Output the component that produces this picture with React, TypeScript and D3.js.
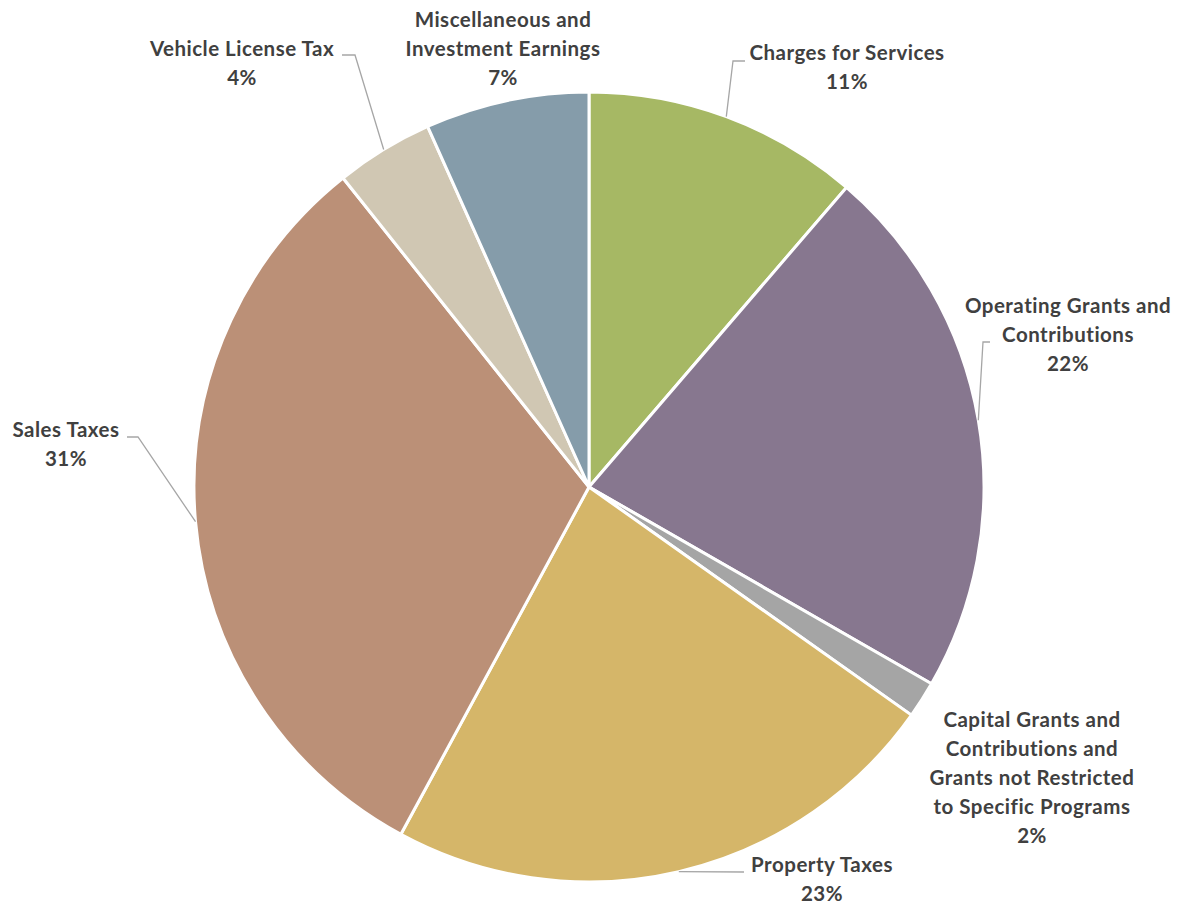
import React from "react";
import * as d3 from "d3";

const categories = [
  "Charges for Services",
  "Operating Grants and Contributions",
  "Capital Grants and Contributions and Grants not Restricted to Specific Programs",
  "Property Taxes",
  "Sales Taxes",
  "Vehicle License Tax",
  "Miscellaneous and Investment Earnings",
];
const shares = [11.3, 22.0, 1.5, 23.1, 31.4, 4.0, 6.7];
const colors = ["#A6B864", "#87778F", "#A5A5A5", "#D5B669", "#BB9077", "#D0C7B3", "#859CAA"];

// label layout: wrapped lines, center x, first line center y, optional leader elbow
const labelLines = [
  ["Charges for Services"],
  ["Operating Grants and", "Contributions"],
  ["Capital Grants and", "Contributions and", "Grants not Restricted", "to Specific Programs"],
  ["Property Taxes"],
  ["Sales Taxes"],
  ["Vehicle License Tax"],
  ["Miscellaneous and", "Investment Earnings"],
];
const labelPos: { x: number; y: number; elbow?: [number, number]; end?: [number, number] }[] = [
  { x: 847, y: 53, elbow: [733, 61], end: [745, 61] },
  { x: 1068, y: 306, elbow: [983, 342], end: [990, 342] },
  { x: 1032, y: 720 },
  { x: 822, y: 865, end: [744, 872] },
  { x: 66, y: 430, elbow: [138, 437], end: [127, 437] },
  { x: 242, y: 49, elbow: [355, 55], end: [342, 55] },
  { x: 503, y: 20 },
];

const W = 1183, H = 905;
const cx = 589, cy = 487, R = 395;
const LH = 29;

export default function App() {
  const total = d3.sum(shares);
  const pie = d3.pie<number>().sort(null).value((d) => d);
  const arcs = pie(shares);
  const arc = d3.arc<d3.PieArcDatum<number>>().innerRadius(0).outerRadius(R);
  return (
    <svg width={W} height={H} style={{ position: "absolute", left: 0, top: 0, background: "#fff" }}>
      <g transform={`translate(${cx},${cy})`}>
        {arcs.map((a, i) => (
          <path key={i} d={arc(a) || ""} fill={colors[i]} stroke="#fff" strokeWidth={3} strokeLinejoin="round" />
        ))}
      </g>
      {arcs.map((a, i) => {
        const lp = labelPos[i];
        if (!lp.end) return null;
        const mid = (a.startAngle + a.endAngle) / 2;
        const px = cx + R * Math.sin(mid);
        const py = cy - R * Math.cos(mid);
        const pts: [number, number][] = [[px, py]];
        if (lp.elbow) pts.push(lp.elbow);
        pts.push(lp.end);
        return (
          <polyline key={"l" + i} points={pts.map((p) => p.join(",")).join(" ")} fill="none" stroke="#A6A6A6" strokeWidth={1.3} />
        );
      })}
      {labelLines.map((lines, i) => {
        const lp = labelPos[i];
        const pct = Math.round((shares[i] / total) * 100) + "%";
        const all = [...lines, pct];
        return (
          <text key={"t" + i} textAnchor="middle" fontFamily="Lato, 'Open Sans', sans-serif" fontWeight="bold" fontSize={20.5} letterSpacing={0.5} fill="#404040">
            {all.map((s, j) => (
              <tspan key={j} x={lp.x} y={lp.y + j * LH} dy="0.35em">{s}</tspan>
            ))}
          </text>
        );
      })}
    </svg>
  );
}
